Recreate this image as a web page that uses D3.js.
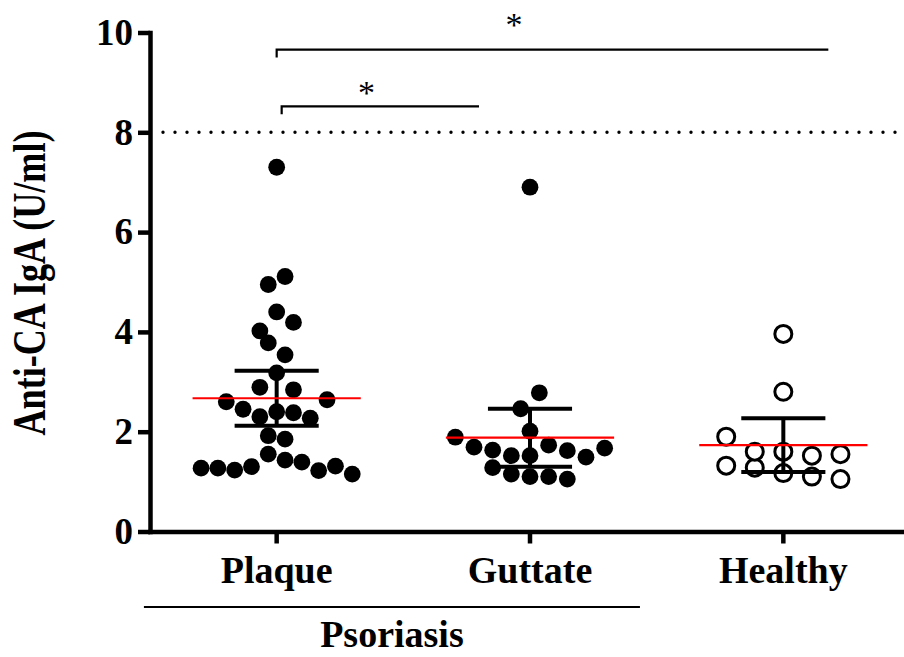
<!DOCTYPE html>
<html>
<head>
<meta charset="utf-8">
<script src="https://cdn.jsdelivr.net/npm/d3@7"></script>
<style>
  body { margin: 0; background: #fff; }
  svg { display: block; }
</style>
</head>
<body>
<svg id="scatter_svg" width="904" height="657"></svg>
<script>
/**
 * Data (U/ml), in left-to-right order inside each swarm.
 */
const categories = ["Plaque", "Guttate", "Healthy"]
const plaque = [1.27, 1.27, 1.23, 1.30, 2.60, 2.45, 2.30, 1.55, 1.92, 3.78, 4.02, 4.95, 2.89, 2.40, 7.30,
  4.40, 1.43, 1.85, 3.54, 3.18, 2.84, 5.11, 4.19, 1.39, 2.38, 2.27, 1.22, 2.64, 1.31, 1.15]
const guttate = [1.89, 1.28, 1.69, 1.15, 1.63, 1.10, 2.46, 1.52, 6.90, 2.78, 2.01, 1.52, 1.73, 1.10,
  1.62, 1.49, 1.67, 1.05]
const healthy = [1.32, 1.90, 1.28, 1.60, 1.17, 3.96, 2.80, 1.60, 1.52, 1.55, 1.10, 1.05]
const groupMeans = [2.67, 1.88, 1.73]
const groupCI = [0.55, 0.58, 0.54]
const groupFilled = [true, true, false]
const yTicks = [0, 2, 4, 6, 8, 10]
const cutoff = 8
const comparisons = [
  { from: "Plaque", to: "Healthy", label: "*" },
  { from: "Plaque", to: "Guttate", label: "*" },
]
const groupLabel = "Psoriasis"
const yTitle = "Anti-CA IgA (U/ml)"

const serif = "'Liberation Serif', 'Times New Roman', Times, serif"

/**
 * Margins of the visualization.
 */
const margin = { top: 32.5, right: -6, bottom: 125.5, left: 150 }

let svg = d3.select("#scatter_svg")
let width = parseInt(svg.attr("width"))
let height = parseInt(svg.attr("height"))

/**
 * Scales
 */
const x = d3.scaleBand()
  .domain(categories)
  .range([margin.left, width - margin.right])

const y = d3.scaleLinear()
  .domain([0, 10])
  .range([height - margin.bottom, margin.top])

const bw = x.bandwidth()
const cx = c => x(c) + bw / 2
const dotR = 8.4

/**
 * Rows of nearly equal values are spread sideways around the group centre
 */
function swarm(values, center) {
  const rowHeight = 1.2 * 2 * dotR / (y(0) - y(1))
  const order = d3.range(values.length).sort((a, b) => values[a] - values[b])
  const rows = []
  order.forEach(i => {
    const row = rows[rows.length - 1]
    if (row && values[i] - row.start <= rowHeight + 1e-9) row.items.push(i)
    else rows.push({ start: values[i], items: [i] })
  })
  const maxRow = d3.max(rows, r => r.items.length)
  const step = Math.min(0.663 * bw / maxRow, 1.7 * 2 * dotR)
  const pts = []
  rows.forEach(r => {
    r.items.sort((a, b) => a - b)
    r.items.forEach((i, k) => {
      pts.push({ value: values[i], x: center + (k - (r.items.length - 1) / 2) * step })
    })
  })
  return pts
}

/**
 * Axes
 */
let g_y_axis = svg.append("g")
  .attr("transform", "translate(" + margin.left + ",0)")
  .call(d3.axisLeft(y).tickValues(yTicks).tickSize(12).tickSizeOuter(0).tickPadding(5))
g_y_axis.attr("font-family", serif).attr("font-size", 37).attr("font-weight", "bold")
g_y_axis.select(".domain").attr("stroke-width", 4.5).attr("stroke-linecap", "square")
g_y_axis.selectAll(".tick line").attr("stroke-width", 4.5)
g_y_axis.selectAll(".tick text").attr("fill", "#000")

let g_x_axis = svg.append("g")
  .attr("transform", "translate(0," + y(0) + ")")
  .call(d3.axisBottom(x).tickSize(12).tickSizeOuter(0))
g_x_axis.attr("font-family", serif).attr("font-size", 38).attr("font-weight", "bold")
g_x_axis.select(".domain").attr("stroke-width", 4.5).attr("stroke-linecap", "square")
g_x_axis.selectAll(".tick line").attr("stroke-width", 4.5)
g_x_axis.selectAll(".tick text").attr("fill", "#000").attr("y", 51.5).attr("dy", null)

/**
 * Y title
 */
svg.append("text")
  .attr("transform", "rotate(-90)")
  .attr("x", -(y(0) + y(10)) / 2 - 1)
  .attr("y", 45)
  .attr("text-anchor", "middle")
  .attr("font-family", serif)
  .attr("font-size", 46)
  .attr("font-weight", "bold")
  .attr("textLength", 305)
  .attr("lengthAdjust", "spacingAndGlyphs")
  .text(yTitle)

/**
 * Dotted cut-off line
 */
svg.append("line")
  .attr("x1", margin.left + 13)
  .attr("x2", width)
  .attr("y1", y(cutoff))
  .attr("y2", y(cutoff))
  .attr("stroke", "#000")
  .attr("stroke-width", 3.4)
  .attr("stroke-linecap", "round")
  .attr("stroke-dasharray", "0,12")

/**
 * Dots, error bars and means per group
 */
const groups = [plaque, guttate, healthy]
let g_groups = svg.append("g")

categories.forEach((c, i) => {
  const g = g_groups.append("g").attr("class", "group")
  const pts = swarm(groups[i], cx(c))

  g.selectAll("circle")
    .data(pts)
    .join("circle")
    .attr("cx", d => d.x)
    .attr("cy", d => y(d.value))
    .attr("r", groupFilled[i] ? dotR : 8.5)
    .attr("fill", groupFilled[i] ? "#000" : "#fff")
    .attr("stroke", groupFilled[i] ? "none" : "#000")
    .attr("stroke-width", 3)

  const lo = groupMeans[i] - groupCI[i]
  const hi = groupMeans[i] + groupCI[i]
  const capW = 0.166 * bw

  g.append("line")
    .attr("x1", cx(c)).attr("x2", cx(c))
    .attr("y1", y(hi)).attr("y2", y(lo))
    .attr("stroke", "#000").attr("stroke-width", 4)

  g.selectAll(".cap")
    .data([lo, hi])
    .join("line")
    .attr("class", "cap")
    .attr("x1", cx(c) - capW).attr("x2", cx(c) + capW)
    .attr("y1", d => y(d)).attr("y2", d => y(d))
    .attr("stroke", "#000").attr("stroke-width", 4)

  g.append("line")
    .attr("x1", cx(c) - 0.332 * bw).attr("x2", cx(c) + 0.332 * bw)
    .attr("y1", y(groupMeans[i])).attr("y2", y(groupMeans[i]))
    .attr("stroke", "#ff0000").attr("stroke-width", 2.2)
})

/**
 * Significance brackets
 */
const bracketLayout = [
  { dx1: 0, dx2: 45, barY: y(cutoff) - 82.7, starBase: 36 },
  { dx1: 5, dx2: -51, barY: y(cutoff) - 26, starBase: 103.5 },
]

comparisons.forEach((d, i) => {
  const L = bracketLayout[i]
  const x1 = cx(d.from) + L.dx1
  const x2 = cx(d.to) + L.dx2
  svg.append("path")
    .attr("d", `M${x1},${L.barY + 8}V${L.barY}H${x2}`)
    .attr("fill", "none")
    .attr("stroke", "#000")
    .attr("stroke-width", 2.2)
  svg.append("text")
    .attr("x", x1 + 0.43 * (x2 - x1))
    .attr("y", L.starBase)
    .attr("text-anchor", "middle")
    .attr("font-family", serif)
    .attr("font-size", 34)
    .text(d.label)
})

/**
 * Psoriasis group line and label
 */
const gx1 = cx("Plaque") - 0.524 * bw
const gx2 = cx("Guttate") + 0.434 * bw
svg.append("line")
  .attr("x1", gx1).attr("x2", gx2)
  .attr("y1", 607).attr("y2", 607)
  .attr("stroke", "#000").attr("stroke-width", 2.2)

svg.append("text")
  .attr("x", (gx1 + gx2) / 2)
  .attr("y", 647)
  .attr("text-anchor", "middle")
  .attr("font-family", serif)
  .attr("font-size", 38)
  .attr("font-weight", "bold")
  .text(groupLabel)
</script>
</body>
</html>
